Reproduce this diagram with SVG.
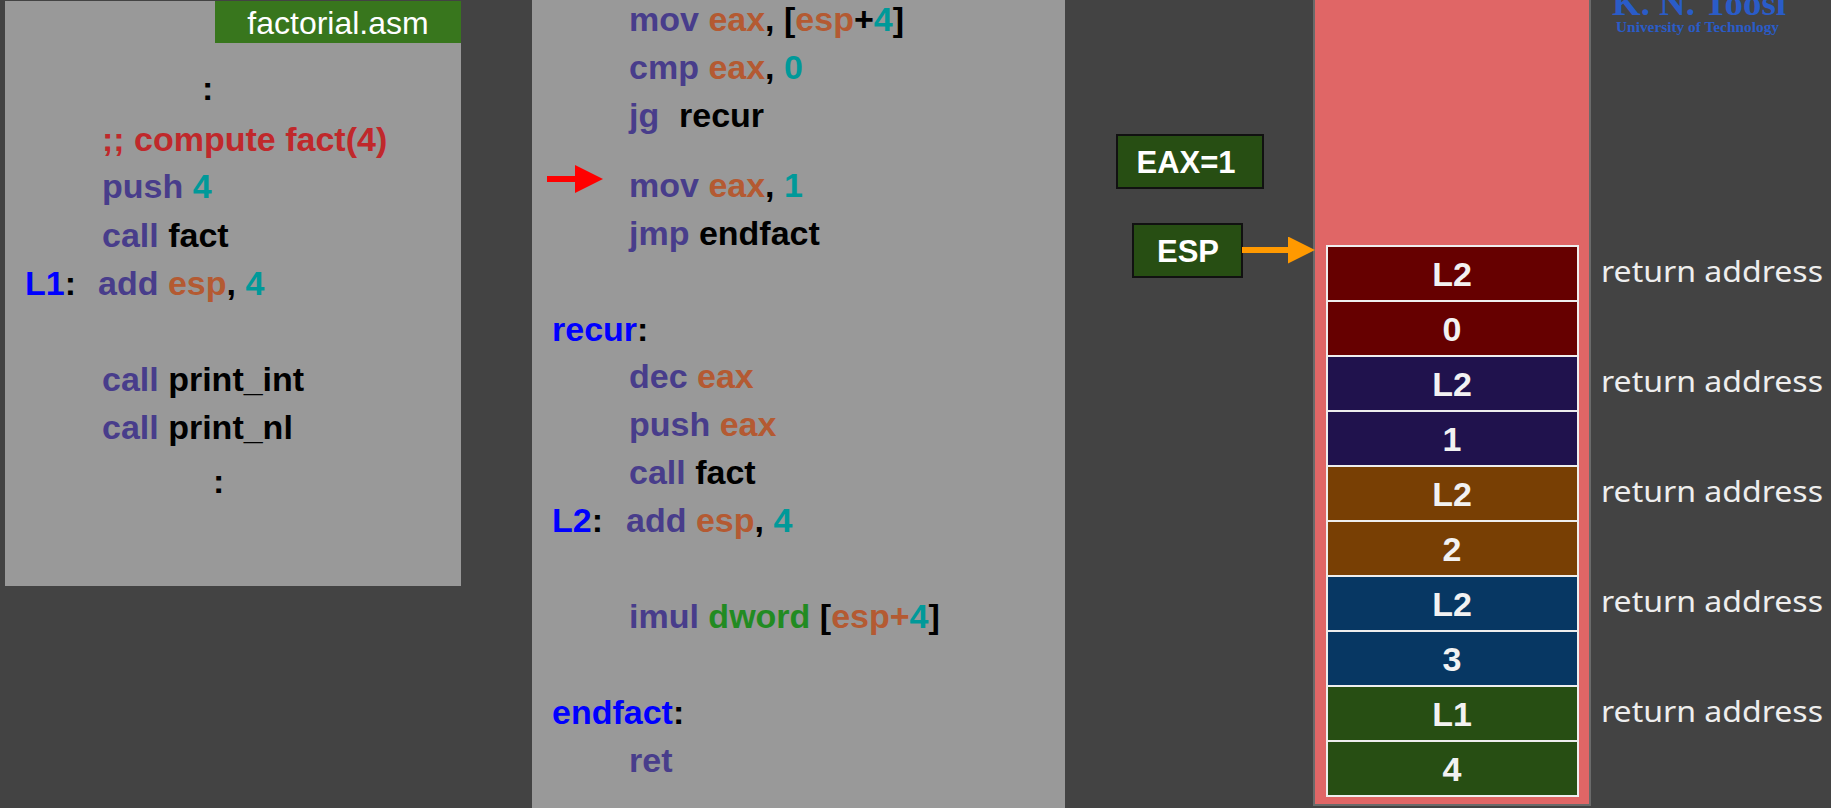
<svg xmlns="http://www.w3.org/2000/svg" width="1831" height="808" viewBox="0 0 1831 808">
  <style>
    .code { font-family: "Liberation Sans", Arial, sans-serif; font-weight: bold; font-size: 34px; fill: #000000; }
    .m { fill: #483D8B; }
    .r { fill: #B45A32; }
    .n { fill: #009999; }
    .l { fill: #0000FF; }
    .c { fill: #C0282B; }
    .d { fill: #228B22; }
    .panel { fill: #999999; }
    .reg { fill: #274E13; stroke: #111111; stroke-width: 2; }
    .regtxt { font-family: "Liberation Sans", Arial, sans-serif; font-weight: bold; font-size: 31px; fill: #FFFFFF; text-anchor: middle; }
    .cell { stroke: #EEEEEE; stroke-width: 2; }
    .celltxt { font-family: "Liberation Sans", Arial, sans-serif; font-weight: bold; font-size: 34px; fill: #F2F2F2; text-anchor: middle; }
    .note { font-family: "Comic Sans MS", "Noto Sans", "DejaVu Sans", sans-serif; font-size: 29px; fill: #EEEEEE; }
    .logo { font-family: "Liberation Serif", "Times New Roman", serif; font-weight: bold; fill: #2A5CC8; }
  </style>
  <defs>
    <marker id="head-red" viewBox="0 0 10 10" refX="0" refY="5" markerUnits="userSpaceOnUse" markerWidth="39" markerHeight="28" orient="auto">
      <path d="M0,0 L10,5 L0,10 z" fill="#FF0000"/>
    </marker>
    <marker id="head-orange" viewBox="0 0 10 10" refX="0" refY="5" markerUnits="userSpaceOnUse" markerWidth="37" markerHeight="27" orient="auto">
      <path d="M0,0 L10,5 L0,10 z" fill="#FF9900"/>
    </marker>
  </defs>

  <!-- background -->
  <rect x="0" y="0" width="1831" height="808" fill="#434343"/>

  <!-- caller: factorial.asm -->
  <g id="file-panel">
    <rect class="panel" x="5" y="1" width="456" height="585"/>
    <rect x="215" y="1" width="246" height="42" fill="#38761D"/>
    <text x="338" y="34" text-anchor="middle" font-family="Liberation Sans, Arial, sans-serif" font-size="32" fill="#FFFFFF">factorial.asm</text>
    <text class="code" x="202" y="100">:</text>
    <text class="code c" x="102" y="151">;; compute fact(4)</text>
    <text class="code" x="102" y="198"><tspan class="m">push</tspan> <tspan class="n">4</tspan></text>
    <text class="code" x="102" y="247"><tspan class="m">call</tspan> fact</text>
    <text class="code" x="25" y="295"><tspan class="l">L1</tspan>:</text>
    <text class="code" x="98" y="295"><tspan class="m">add</tspan> <tspan class="r">esp</tspan>, <tspan class="n">4</tspan></text>
    <text class="code" x="102" y="391"><tspan class="m">call</tspan> print_int</text>
    <text class="code" x="102" y="439"><tspan class="m">call</tspan> print_nl</text>
    <text class="code" x="213" y="493">:</text>
  </g>

  <!-- fact subroutine -->
  <g id="fact-code">
    <rect class="panel" x="532" y="0" width="533" height="808"/>
    <text class="code" x="629" y="31"><tspan class="m">mov</tspan> <tspan class="r">eax</tspan>, [<tspan class="r">esp</tspan>+<tspan class="n">4</tspan>]</text>
    <text class="code" x="629" y="79"><tspan class="m">cmp</tspan> <tspan class="r">eax</tspan>, <tspan class="n">0</tspan></text>
    <text class="code" x="629" y="127"><tspan class="m">jg</tspan><tspan x="679">recur</tspan></text>
    <text class="code" x="629" y="197"><tspan class="m">mov</tspan> <tspan class="r">eax</tspan>, <tspan class="n">1</tspan></text>
    <text class="code" x="629" y="245"><tspan class="m">jmp</tspan> endfact</text>
    <text class="code" x="552" y="341"><tspan class="l">recur</tspan>:</text>
    <text class="code" x="629" y="388"><tspan class="m">dec</tspan> <tspan class="r">eax</tspan></text>
    <text class="code" x="629" y="436"><tspan class="m">push</tspan> <tspan class="r">eax</tspan></text>
    <text class="code" x="629" y="484"><tspan class="m">call</tspan> fact</text>
    <text class="code" x="552" y="532"><tspan class="l">L2</tspan>:</text>
    <text class="code" x="626" y="532"><tspan class="m">add</tspan> <tspan class="r">esp</tspan>, <tspan class="n">4</tspan></text>
    <text class="code" x="629" y="628"><tspan class="m">imul</tspan> <tspan class="d">dword</tspan> [<tspan class="r">esp+</tspan><tspan class="n">4</tspan>]</text>
    <text class="code" x="552" y="724"><tspan class="l">endfact</tspan>:</text>
    <text class="code m" x="629" y="772">ret</text>
  </g>

  <!-- registers -->
  <g id="eax-register">
    <rect class="reg" x="1117" y="135" width="146" height="53"/>
    <text class="regtxt" x="1186" y="173">EAX=1</text>
  </g>
  <g id="esp-register">
    <rect class="reg" x="1133" y="224" width="109" height="53"/>
    <text class="regtxt" x="1188" y="262">ESP</text>
  </g>

  <!-- stack memory -->
  <g id="stack">
    <rect x="1314" y="-2" width="276" height="807" fill="#E06666" stroke="#6A6A6A" stroke-width="2"/>
  </g>
  <g id="slot-ret-l2-a">
    <rect class="cell" x="1327" y="246" width="251" height="55" fill="#660000"/>
    <text class="celltxt" x="1452" y="286">L2</text>
  </g>
  <g id="slot-arg-0">
    <rect class="cell" x="1327" y="301" width="251" height="55" fill="#660000"/>
    <text class="celltxt" x="1452" y="341">0</text>
  </g>
  <g id="slot-ret-l2-b">
    <rect class="cell" x="1327" y="356" width="251" height="55" fill="#20124D"/>
    <text class="celltxt" x="1452" y="396">L2</text>
  </g>
  <g id="slot-arg-1">
    <rect class="cell" x="1327" y="411" width="251" height="55" fill="#20124D"/>
    <text class="celltxt" x="1452" y="451">1</text>
  </g>
  <g id="slot-ret-l2-c">
    <rect class="cell" x="1327" y="466" width="251" height="55" fill="#783F04"/>
    <text class="celltxt" x="1452" y="506">L2</text>
  </g>
  <g id="slot-arg-2">
    <rect class="cell" x="1327" y="521" width="251" height="55" fill="#783F04"/>
    <text class="celltxt" x="1452" y="561">2</text>
  </g>
  <g id="slot-ret-l2-d">
    <rect class="cell" x="1327" y="576" width="251" height="55" fill="#073763"/>
    <text class="celltxt" x="1452" y="616">L2</text>
  </g>
  <g id="slot-arg-3">
    <rect class="cell" x="1327" y="631" width="251" height="55" fill="#073763"/>
    <text class="celltxt" x="1452" y="671">3</text>
  </g>
  <g id="slot-ret-l1">
    <rect class="cell" x="1327" y="686" width="251" height="55" fill="#274E13"/>
    <text class="celltxt" x="1452" y="726">L1</text>
  </g>
  <g id="slot-arg-4">
    <rect class="cell" x="1327" y="741" width="251" height="55" fill="#274E13"/>
    <text class="celltxt" x="1452" y="781">4</text>
  </g>

  <!-- slot annotations -->
  <g id="notes">
    <text class="note" x="1601" y="282" textLength="222" lengthAdjust="spacingAndGlyphs">return address</text>
    <text class="note" x="1601" y="392" textLength="222" lengthAdjust="spacingAndGlyphs">return address</text>
    <text class="note" x="1601" y="502" textLength="222" lengthAdjust="spacingAndGlyphs">return address</text>
    <text class="note" x="1601" y="612" textLength="222" lengthAdjust="spacingAndGlyphs">return address</text>
    <text class="note" x="1601" y="722" textLength="222" lengthAdjust="spacingAndGlyphs">return address</text>
  </g>

  <!-- institution mark -->
  <g id="logo">
    <text class="logo" x="1612" y="15" font-size="36" textLength="174" lengthAdjust="spacingAndGlyphs">K. N. Toosi</text>
    <text class="logo" x="1616" y="32" font-size="15" textLength="163" lengthAdjust="spacingAndGlyphs">University of Technology</text>
  </g>

  <!-- pointers -->
  <g id="connectors">
    <line x1="547" y1="179" x2="575" y2="179" stroke="#FF0000" stroke-width="6" marker-end="url(#head-red)"/>
    <line x1="1242" y1="250" x2="1288" y2="250" stroke="#FF9900" stroke-width="6" marker-end="url(#head-orange)"/>
  </g>
</svg>
